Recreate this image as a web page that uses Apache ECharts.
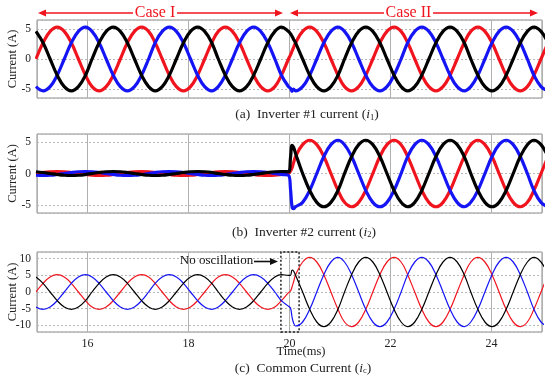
<!DOCTYPE html>
<html>
<head>
<meta charset="utf-8">
<script src="https://cdn.jsdelivr.net/npm/echarts@6/dist/echarts.min.js"></script>
<style>
html,body{margin:0;padding:0;background:#fff;}
#chart{width:550px;height:380px;}
</style>
</head>
<body>
<div id="chart"></div>
<script>
// ---- data ----
const time = [
  14.98, 15.12, 15.26, 15.40, 15.54, 15.68, 15.82, 15.96, 16.09, 16.23, 16.37, 16.51,
  16.65, 16.79, 16.93, 17.07, 17.21, 17.34, 17.48, 17.62, 17.76, 17.90, 18.04, 18.18,
  18.32, 18.46, 18.59, 18.73, 18.87, 19.01, 19.15, 19.29, 19.43, 19.57, 19.71, 19.84,
  19.98, 20.02, 20.05, 20.08, 20.12, 20.26, 20.40, 20.54, 20.68, 20.82, 20.96, 21.09, 21.23, 21.37, 21.51,
  21.65, 21.79, 21.93, 22.07, 22.21, 22.34, 22.48, 22.62, 22.76, 22.90, 23.04, 23.18,
  23.32, 23.46, 23.59, 23.73, 23.87, 24.01, 24.15, 24.29, 24.43, 24.57, 24.71, 24.84,
  24.98, 25.12
];

// (a) Inverter #1 current
const i1Red = [
  0, 2.7, 4.6, 5.3, 4.6, 2.7, 0, -2.7, -4.6, -5.3, -4.6, -2.7,
  0, 2.7, 4.6, 5.3, 4.6, 2.7, 0, -2.7, -4.6, -5.3, -4.6, -2.7,
  0, 2.7, 4.6, 5.3, 4.6, 2.7, 0, -2.7, -4.6, -5.3, -4.6, -2.7,
  0, 0.7, 1.3, 1.9, 2.7, 4.6, 5.3, 4.6, 2.7, 0, -2.7, -4.6, -5.3, -4.6, -2.7,
  0, 2.7, 4.6, 5.3, 4.6, 2.7, 0, -2.7, -4.6, -5.3, -4.6, -2.7,
  0, 2.7, 4.6, 5.3, 4.6, 2.7, 0, -2.7, -4.6, -5.3, -4.6, -2.7,
  0, 2.7
];
const i1Blue = [
  -4.6, -5.3, -4.6, -2.7, 0, 2.7, 4.6, 5.3, 4.6, 2.7, 0, -2.7,
  -4.6, -5.3, -4.6, -2.7, 0, 2.7, 4.6, 5.3, 4.6, 2.7, 0, -2.7,
  -4.6, -5.3, -4.6, -2.7, 0, 2.7, 4.6, 5.3, 4.6, 2.7, 0, -2.7,
  -4.6, -4.9, -5.4, -5.0, -5.3, -4.6, -2.7, 0, 2.7, 4.6, 5.3, 4.6, 2.7, 0, -2.7,
  -4.6, -5.3, -4.6, -2.7, 0, 2.7, 4.6, 5.3, 4.6, 2.7, 0, -2.7,
  -4.6, -5.3, -4.6, -2.7, 0, 2.7, 4.6, 5.3, 4.6, 2.7, 0, -2.7,
  -4.6, -5.3
];
const i1Black = [
  4.6, 2.7, 0, -2.7, -4.6, -5.3, -4.6, -2.7, 0, 2.7, 4.6, 5.3,
  4.6, 2.7, 0, -2.7, -4.6, -5.3, -4.6, -2.7, 0, 2.7, 4.6, 5.3,
  4.6, 2.7, 0, -2.7, -4.6, -5.3, -4.6, -2.7, 0, 2.7, 4.6, 5.3,
  4.6, 4.2, 3.8, 3.3, 2.7, 0, -2.7, -4.6, -5.3, -4.6, -2.7, 0, 2.7, 4.6, 5.3,
  4.6, 2.7, 0, -2.7, -4.6, -5.3, -4.6, -2.7, 0, 2.7, 4.6, 5.3,
  4.6, 2.7, 0, -2.7, -4.6, -5.3, -4.6, -2.7, 0, 2.7, 4.6, 5.3,
  4.6, 2.7
];

// (b) Inverter #2 current
const i2Red = [
  0, 0.16, 0.28, 0.32, 0.28, 0.16, 0, -0.16, -0.28, -0.32, -0.28, -0.16,
  0, 0.16, 0.28, 0.32, 0.28, 0.16, 0, -0.16, -0.28, -0.32, -0.28, -0.16,
  0, 0.16, 0.28, 0.32, 0.28, 0.16, 0, -0.16, -0.28, -0.32, -0.28, -0.16,
  0, 0.4, 0.9, 1.7, 2.7, 4.6, 5.3, 4.6, 2.7, 0, -2.7, -4.6, -5.3, -4.6, -2.7,
  0, 2.7, 4.6, 5.3, 4.6, 2.7, 0, -2.7, -4.6, -5.3, -4.6, -2.7,
  0, 2.7, 4.6, 5.3, 4.6, 2.7, 0, -2.7, -4.6, -5.3, -4.6, -2.7,
  0, 2.7
];
const i2Blue = [
  -0.28, -0.32, -0.28, -0.16, 0, 0.16, 0.28, 0.32, 0.28, 0.16, 0, -0.16,
  -0.28, -0.32, -0.28, -0.16, 0, 0.16, 0.28, 0.32, 0.28, 0.16, 0, -0.16,
  -0.28, -0.32, -0.28, -0.16, 0, 0.16, 0.28, 0.32, 0.28, 0.16, 0, -0.16,
  -0.28, -2.5, -5.3, -5.6, -5.3, -4.6, -2.7, 0, 2.7, 4.6, 5.3, 4.6, 2.7, 0, -2.7,
  -4.6, -5.3, -4.6, -2.7, 0, 2.7, 4.6, 5.3, 4.6, 2.7, 0, -2.7,
  -4.6, -5.3, -4.6, -2.7, 0, 2.7, 4.6, 5.3, 4.6, 2.7, 0, -2.7,
  -4.6, -5.3
];
const i2Black = [
  0.28, 0.16, 0, -0.16, -0.28, -0.32, -0.28, -0.16, 0, 0.16, 0.28, 0.32,
  0.28, 0.16, 0, -0.16, -0.28, -0.32, -0.28, -0.16, 0, 0.16, 0.28, 0.32,
  0.28, 0.16, 0, -0.16, -0.28, -0.32, -0.28, -0.16, 0, 0.16, 0.28, 0.32,
  0.28, 2.5, 4.5, 4.2, 3.2, 0, -2.7, -4.6, -5.3, -4.6, -2.7, 0, 2.7, 4.6, 5.3,
  4.6, 2.7, 0, -2.7, -4.6, -5.3, -4.6, -2.7, 0, 2.7, 4.6, 5.3,
  4.6, 2.7, 0, -2.7, -4.6, -5.3, -4.6, -2.7, 0, 2.7, 4.6, 5.3,
  4.6, 2.7
];

// (c) Common current
const icRed = [
  0, 2.6, 4.5, 5.2, 4.5, 2.6, 0, -2.6, -4.5, -5.2, -4.5, -2.6,
  0, 2.6, 4.5, 5.2, 4.5, 2.6, 0, -2.6, -4.5, -5.2, -4.5, -2.6,
  0, 2.6, 4.5, 5.2, 4.5, 2.6, 0, -2.6, -4.5, -5.2, -4.5, -2.6,
  -0.2, 0.3, 1.5, 3.0, 5.1, 9.0, 10.4, 9.0, 5.2, 0, -5.2, -9.0, -10.4, -9.0, -5.2,
  0, 5.2, 9.0, 10.4, 9.0, 5.2, 0, -5.2, -9.0, -10.4, -9.0, -5.2,
  0, 5.2, 9.0, 10.4, 9.0, 5.2, 0, -5.2, -9.0, -10.4, -9.0, -5.2,
  0, 5.2
];
const icBlue = [
  -4.5, -5.2, -4.5, -2.6, 0, 2.6, 4.5, 5.2, 4.5, 2.6, 0, -2.6,
  -4.5, -5.2, -4.5, -2.6, 0, 2.6, 4.5, 5.2, 4.5, 2.6, 0, -2.6,
  -4.5, -5.2, -4.5, -2.6, 0, 2.6, 4.5, 5.2, 4.5, 2.6, 0, -2.6,
  -4.3, -4.8, -7.5, -9.2, -10.2, -9.0, -5.2, 0, 5.2, 9.0, 10.4, 9.0, 5.2, 0, -5.2,
  -9.0, -10.4, -9.0, -5.2, 0, 5.2, 9.0, 10.4, 9.0, 5.2, 0, -5.2,
  -9.0, -10.4, -9.0, -5.2, 0, 5.2, 9.0, 10.4, 9.0, 5.2, 0, -5.2,
  -9.0, -10.4
];
const icBlack = [
  4.5, 2.6, 0, -2.6, -4.5, -5.2, -4.5, -2.6, 0, 2.6, 4.5, 5.2,
  4.5, 2.6, 0, -2.6, -4.5, -5.2, -4.5, -2.6, 0, 2.6, 4.5, 5.2,
  4.5, 2.6, 0, -2.6, -4.5, -5.2, -4.5, -2.6, 0, 2.6, 4.5, 5.2,
  5.0, 5.0, 6.6, 6.3, 5.0, 0, -5.2, -9.0, -10.4, -9.0, -5.2, 0, 5.2, 9.0, 10.4,
  9.0, 5.2, 0, -5.2, -9.0, -10.4, -9.0, -5.2, 0, 5.2, 9.0, 10.4,
  9.0, 5.2, 0, -5.2, -9.0, -10.4, -9.0, -5.2, 0, 5.2, 9.0, 10.4,
  9.0, 5.2
];

const xTickLabels = [16, 18, 20, 22, 24];
const yTicksAB = [-5, 0, 5];
const yTicksC = [-10, -5, 0, 5, 10];
const noOscWindow = [19.83, 20.19];

// ---- chart ----
const FONT = 'Liberation Serif';
const RED = '#f0141e', BLUE = '#1414f5', BLACK = '#000000';
const chart = echarts.init(document.getElementById('chart'), null, {renderer: 'canvas'});

const pairs = arr => time.map((t, i) => [t, arr[i]]);

function xAx(idx, showLabels) {
  return {
    type: 'value', gridIndex: idx, min: 15, max: 25, splitNumber: 5,
    axisLine: {show: false}, axisTick: {show: false},
    axisLabel: {
      show: showLabels, fontFamily: FONT, fontSize: 12, color: '#222', margin: 6,
      showMinLabel: false, showMaxLabel: false,
      formatter: v => (xTickLabels.indexOf(Math.round(v * 100) / 100) >= 0 ? String(v) : '')
    },
    splitLine: {show: true, lineStyle: {color: '#b0b0b0', width: 1}}
  };
}
function yAx(idx, lim, ticks, split) {
  return {
    type: 'value', gridIndex: idx, min: -lim, max: lim, splitNumber: split,
    name: 'Current (A)', nameLocation: 'middle', nameGap: 18, nameMoveOverlap: false,
    nameTextStyle: {fontFamily: FONT, fontSize: 12.5, color: '#222'},
    axisLine: {show: false}, axisTick: {show: false},
    axisLabel: {
      fontFamily: FONT, fontSize: 11.5, color: '#222', margin: 6,
      formatter: v => (ticks.indexOf(Math.round(v * 100) / 100) >= 0 ? String(v) : '')
    },
    splitLine: {show: true, lineStyle: {color: '#b8b8b8', width: 1, type: [2, 2]}}
  };
}
function line(name, arr, color, idx, width, extra) {
  return Object.assign({
    name, type: 'line', xAxisIndex: idx, yAxisIndex: idx,
    data: pairs(arr), showSymbol: false, smooth: 0.4, silent: true,
    lineStyle: {color, width}, itemStyle: {color}, animation: false
  }, extra || {});
}

const grids = [
  {left: 37, right: 8, top: 20, height: 78},
  {left: 37, right: 8, top: 134, height: 79},
  {left: 37, right: 8, top: 252, height: 80}
].map(g => Object.assign(g, {
  show: true, borderColor: '#8c8c8c', borderWidth: 1, backgroundColor: 'transparent',
  containLabel: false, outerBoundsMode: 'none'
}));

function arrowHead(x, y, dir, color) {
  const L = 8, H = 3.5;
  return {type: 'polygon', shape: {points: [[x, y], [x - dir * L, y - H], [x - dir * L, y + H]]}, style: {fill: color}, z: 100};
}
function hline(x1, x2, y, color, w) {
  return {type: 'line', shape: {x1, y1: y, x2, y2: y}, style: {stroke: color, lineWidth: w}, z: 100};
}
function txt(x, y, text, size, color, rich) {
  const s = {text, x: 0, y: 0, fill: color, fontFamily: FONT, fontSize: size, align: 'center', verticalAlign: 'middle'};
  if (rich) s.rich = rich;
  return {type: 'text', x, y, style: s, z: 100};
}
const capRich = {
  i: {fontFamily: FONT, fontSize: 13.5, fontStyle: 'italic', fill: '#222'},
  s: {fontFamily: FONT, fontSize: 8.5, fill: '#222', padding: [6, 0, 0, 0]}
};

const option = {
  animation: false,
  grid: grids,
  xAxis: [xAx(0, false), xAx(1, false), xAx(2, true)],
  yAxis: [yAx(0, 6.5, yTicksAB, 2), yAx(1, 6.3, yTicksAB, 2), yAx(2, 12, yTicksC, 5)],
  series: [
    line('i1 a', i1Red, RED, 0, 3.2),
    line('i1 b', i1Blue, BLUE, 0, 3.2),
    line('i1 c', i1Black, BLACK, 0, 3.2),
    line('i2 a', i2Red, RED, 1, 3.2),
    line('i2 b', i2Blue, BLUE, 1, 3.2),
    line('i2 c', i2Black, BLACK, 1, 3.2),
    line('ic a', icRed, RED, 2, 1.2),
    line('ic b', icBlue, BLUE, 2, 1.2),
    line('ic c', icBlack, BLACK, 2, 1.2, {
      markArea: {
        silent: true,
        itemStyle: {color: 'rgba(0,0,0,0)', borderColor: '#222', borderWidth: 1.5, borderType: [2, 2]},
        data: [[{xAxis: noOscWindow[0], yAxis: -12}, {xAxis: noOscWindow[1], yAxis: 12}]]
      }
    })
  ],
  graphic: [
    // Case I / Case II arrows
    arrowHead(38, 13, -1, RED), hline(44, 133, 13, RED, 1.6),
    txt(155, 12.5, 'Case I', 16, RED),
    hline(177, 277, 13, RED, 1.6), arrowHead(283, 13, 1, RED),
    arrowHead(290, 13, -1, RED), hline(296, 384, 13, RED, 1.6),
    txt(408.5, 12.5, 'Case II', 16, RED),
    hline(433, 532, 13, RED, 1.6), arrowHead(538, 13, 1, RED),
    // No oscillation annotation
    txt(216.5, 261, 'No oscillation', 13, '#111'),
    hline(254, 272, 261.5, '#111', 1.6), arrowHead(278, 261.5, 1, '#111'),
    // x axis name
    txt(301, 351.5, 'Time(ms)', 12.5, '#222'),
    // captions
    txt(307, 114.5, '(a)  Inverter #1 current ({i|i}{s|1})', 13.5, '#222', capRich),
    txt(304, 232, '(b)  Inverter #2 current ({i|i}{s|2})', 13.5, '#222', capRich),
    txt(303, 368, '(c)  Common Current ({i|i}{s|c})', 13.5, '#222', capRich)
  ]
};
chart.setOption(option);
</script>
</body>
</html>
